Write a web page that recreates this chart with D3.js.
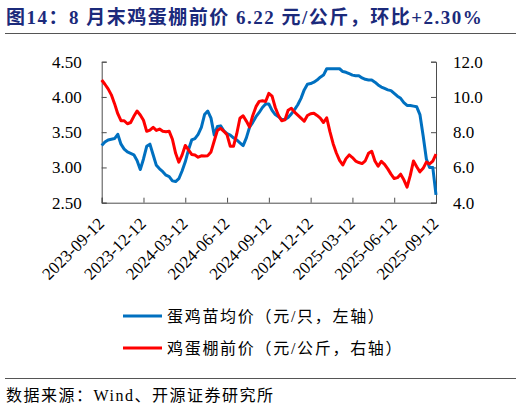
<!DOCTYPE html>
<html>
<head>
<meta charset="utf-8">
<script src="https://cdn.jsdelivr.net/npm/d3@7"></script>
<style>
  body { margin: 0; background: #fff; }
  svg text { font-family: "Liberation Serif", "Noto Sans CJK SC", serif; }
</style>
</head>
<body>
<div id="chart"></div>
<script>
// tick labels (every 13 weeks)
var tickLabels = ["2023-09-12","2023-12-12","2024-03-12","2024-06-12","2024-09-12",
                  "2024-12-12","2025-03-12","2025-06-12","2025-09-12"];

// 蛋鸡苗均价 (元/只, left axis), weekly
var chickPrice = [3.31,3.36,3.39,3.40,3.41,3.47,3.33,3.26,3.22,3.20,
  3.18,3.10,2.97,3.12,3.30,3.33,3.18,3.03,2.98,2.94,
  2.89,2.87,2.81,2.80,2.84,2.95,3.08,3.25,3.39,3.41,
  3.47,3.57,3.75,3.80,3.70,3.46,3.58,3.59,3.52,3.48,
  3.46,3.42,3.39,3.35,3.31,3.42,3.57,3.64,3.72,3.78,
  3.85,3.90,3.90,3.81,3.75,3.72,3.68,3.68,3.71,3.76,
  3.82,3.89,3.98,4.10,4.18,4.19,4.21,4.24,4.28,4.31,
  4.40,4.40,4.40,4.40,4.40,4.36,4.35,4.33,4.31,4.30,
  4.30,4.27,4.25,4.24,4.24,4.21,4.17,4.14,4.12,4.10,
  4.09,4.05,4.01,3.98,3.92,3.88,3.88,3.87,3.86,3.75,
  3.45,3.12,3.00,3.00,2.61];

// 鸡蛋棚前价 (元/公斤, right axis), weekly
var eggPrice = [10.96,10.72,10.46,10.12,9.62,9.05,8.65,8.65,8.48,8.55,
  8.90,9.20,8.98,8.68,8.05,8.12,8.28,8.10,8.18,8.05,
  8.02,8.05,7.60,6.80,6.30,6.70,7.25,7.00,6.74,6.71,
  6.58,6.66,6.65,6.67,6.88,7.50,8.10,8.22,8.05,7.85,
  7.20,7.20,7.90,8.79,8.93,8.63,8.30,8.95,9.45,9.75,
  9.78,9.74,10.20,10.05,9.40,8.95,8.65,8.70,9.25,9.36,
  9.14,8.97,8.80,8.62,8.95,9.05,9.08,8.95,8.80,8.55,
  8.82,8.03,7.35,6.82,6.40,6.14,6.50,6.71,6.56,6.36,
  6.28,6.22,6.38,6.80,6.92,6.37,6.07,6.35,6.18,5.92,
  5.62,5.37,5.42,5.62,5.30,4.88,5.55,6.37,6.04,5.75,
  5.95,6.30,6.20,6.36,6.75];

var leftTicks = [2.5, 3.0, 3.5, 4.0, 4.5];
var rightTicks = [4, 6, 8, 10, 12];

var W = 522, H = 408;
var plot = {left: 101.7, right: 436, top: 61.7, bottom: 202.7};

var svg = d3.select("#chart").append("svg")
  .attr("width", W)
  .attr("height", H);

// title
svg.append("text")
  .attr("x", 6)
  .attr("y", 24)
  .style("font-size", "19px")
  .style("font-weight", "bold")
  .style("letter-spacing", "1.5px")
  .style("fill", "#1b2a7b")
  .text("图14：8 月末鸡蛋棚前价 6.22 元/公斤，环比+2.30%");

svg.append("line")
  .attr("x1", 5).attr("x2", 516)
  .attr("y1", 33.5).attr("y2", 33.5)
  .style("stroke", "#555").style("stroke-width", 1);

// scales
var x = d3.scaleLinear()
  .domain([0, chickPrice.length - 1])
  .range([plot.left, plot.right]);

var yL = d3.scaleLinear().domain([2.5, 4.5]).range([plot.bottom, plot.top]);
var yR = d3.scaleLinear().domain([4, 12]).range([plot.bottom, plot.top]);

var axisColor = "#4d4d4d";

// left axis
var gL = svg.append("g")
  .attr("transform", "translate(" + plot.left + ",0)")
  .call(d3.axisRight(yL).tickValues(leftTicks).tickSize(5).tickFormat(d3.format(".2f")));
gL.selectAll("text")
  .attr("x", -20)
  .attr("text-anchor", "end")
  .style("font-size", "17px")
  .style("fill", "#000");

// right axis
var gR = svg.append("g")
  .attr("transform", "translate(" + plot.right + ",0)")
  .call(d3.axisLeft(yR).tickValues(rightTicks).tickSize(5).tickFormat(d3.format(".1f")));
gR.selectAll("text")
  .attr("x", 17)
  .attr("text-anchor", "start")
  .style("font-size", "17px")
  .style("fill", "#000");

// bottom axis
var gX = svg.append("g")
  .attr("transform", "translate(0," + plot.bottom + ")")
  .call(d3.axisTop(x)
    .tickValues(d3.range(0, chickPrice.length, 13))
    .tickSize(5)
    .tickFormat(function(d, i) { return tickLabels[i]; }));
gX.selectAll("text")
  .attr("x", 0).attr("y", 0).attr("dy", 0)
  .attr("text-anchor", "end")
  .attr("transform", "translate(3,22) rotate(-45)")
  .style("font-size", "17px")
  .style("fill", "#000");

[gL, gR, gX].forEach(function(g) {
  g.select(".domain").style("stroke", axisColor);
  g.selectAll(".tick line").style("stroke", axisColor);
});

// lines
var lineL = d3.line()
  .x(function(d, i) { return x(i); })
  .y(function(d) { return yL(d); });
var lineR = d3.line()
  .x(function(d, i) { return x(i); })
  .y(function(d) { return yR(d); });

svg.append("path")
  .datum(chickPrice)
  .attr("d", lineL)
  .style("fill", "none")
  .style("stroke", "#0070c0")
  .style("stroke-width", 3)
  .style("stroke-linejoin", "round");

svg.append("path")
  .datum(eggPrice)
  .attr("d", lineR)
  .style("fill", "none")
  .style("stroke", "#ff0000")
  .style("stroke-width", 3)
  .style("stroke-linejoin", "round");

// legend
var legendItems = [
  {label: "蛋鸡苗均价（元/只，左轴）", color: "#0070c0", y: 316},
  {label: "鸡蛋棚前价（元/公斤，右轴）", color: "#ff0000", y: 348}
];
var legend = svg.append("g");
legendItems.forEach(function(d) {
  legend.append("line")
    .attr("x1", 123).attr("x2", 162)
    .attr("y1", d.y).attr("y2", d.y)
    .style("stroke", d.color).style("stroke-width", 3);
  legend.append("text")
    .attr("x", 167).attr("y", d.y + 6)
    .style("font-size", "16px")
    .style("letter-spacing", "1.7px")
    .style("fill", "#000")
    .text(d.label);
});

// source
svg.append("line")
  .attr("x1", 5).attr("x2", 516)
  .attr("y1", 378.5).attr("y2", 378.5)
  .style("stroke", "#555").style("stroke-width", 1);

svg.append("text")
  .attr("x", 6).attr("y", 401)
  .style("font-size", "16px")
  .style("letter-spacing", "1.5px")
  .style("fill", "#000")
  .text("数据来源：Wind、开源证券研究所");
</script>
</body>
</html>
